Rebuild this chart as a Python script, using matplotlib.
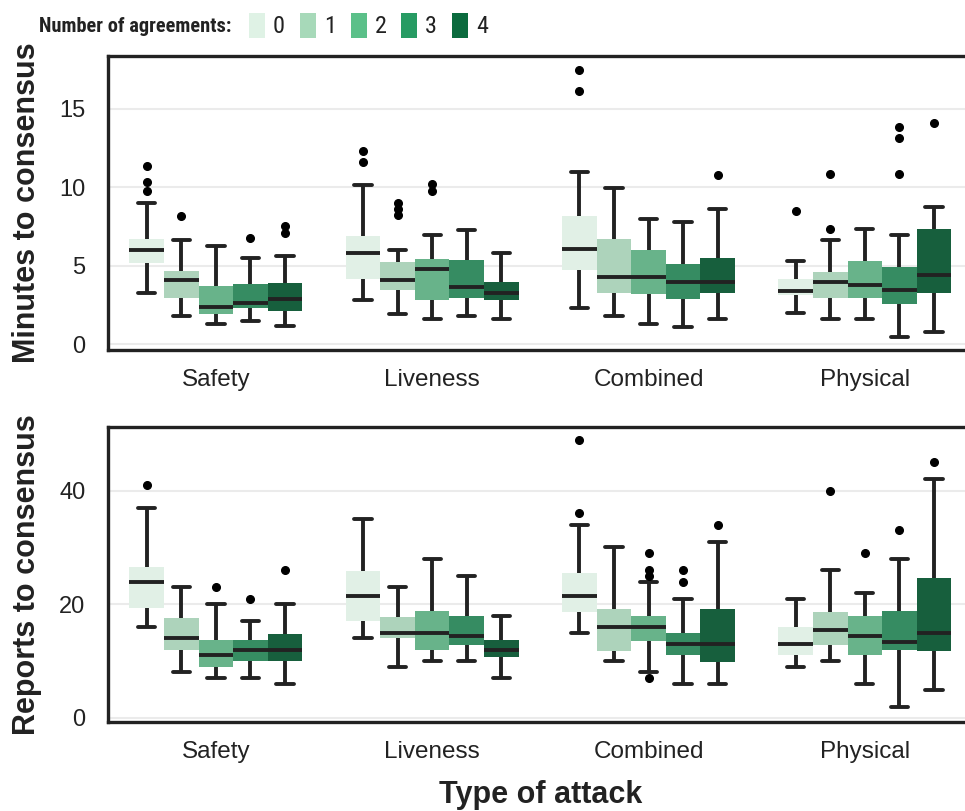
import colorsys

import matplotlib
matplotlib.use("Agg")
import matplotlib.pyplot as plt
from matplotlib import font_manager
from matplotlib.colors import to_rgb
from matplotlib.patches import Patch

# ---------------------------------------------------------------- data
attack_types = ["Safety", "Liveness", "Combined", "Physical"]
agreements = ["0", "1", "2", "3", "4"]

# Minutes to consensus: rows = attack type, columns = number of agreements
minutes_med = [[5.98, 4.07, 2.37, 2.61, 2.88],
               [5.80, 4.07, 4.79, 3.64, 3.29],
               [6.04, 4.28, 4.28, 3.96, 3.96],
               [3.37, 3.94, 3.80, 3.45, 4.39]]
minutes_q1 = [[5.17, 2.94, 1.93, 2.31, 2.12],
              [4.15, 3.45, 2.82, 2.94, 2.82],
              [4.72, 3.26, 3.20, 2.88, 3.26],
              [3.12, 2.94, 2.94, 2.56, 3.26]]
minutes_q3 = [[6.72, 4.64, 3.71, 3.81, 3.92],
              [6.91, 5.26, 5.40, 5.34, 3.99],
              [8.14, 6.68, 5.98, 5.09, 5.47],
              [4.13, 4.62, 5.28, 4.90, 7.37]]
minutes_lo = [[3.29, 1.80, 1.29, 1.46, 1.14],
              [2.80, 1.95, 1.63, 1.80, 1.63],
              [2.31, 1.80, 1.29, 1.13, 1.63],
              [1.97, 1.61, 1.61, 0.45, 0.81]]
minutes_hi = [[8.98, 6.61, 6.29, 5.47, 5.61],
              [10.13, 5.98, 6.95, 7.29, 5.79],
              [10.95, 9.96, 7.95, 7.80, 8.63],
              [5.28, 6.61, 7.31, 6.95, 8.77]]
minutes_fliers = [[[9.79, 10.32, 11.32], [8.14], [], [6.78], [7.10, 7.52]],
                  [[11.59, 12.29], [8.26, 8.63, 8.98], [9.75, 10.22], [], []],
                  [[16.10, 17.46], [], [], [], [10.79]],
                  [[8.46], [7.31, 10.81], [], [10.81, 13.12, 13.81], [14.11]]]

# Reports to consensus
reports_med = [[24, 14, 11, 12, 12],
               [21.5, 14.9, 14.9, 14.4, 12],
               [21.5, 16, 16, 13, 13],
               [13, 15.4, 14.4, 13.4, 15]]
reports_q1 = [[19.3, 11.9, 8.9, 10.1, 10],
              [17.1, 14, 12, 12.9, 10.8],
              [18.7, 11.8, 13.6, 11, 9.9],
              [11, 12.9, 11, 12, 11.8]]
reports_q3 = [[26.6, 17.6, 13.8, 13.8, 14.7],
              [25.8, 17.7, 18.9, 17.9, 13.8],
              [25.5, 19.2, 17.9, 14.9, 19.2],
              [16, 18.6, 17.9, 18.9, 24.6]]
reports_lo = [[16, 8, 7, 7, 6],
              [14, 9, 10, 10, 7],
              [15, 10, 8, 6, 6],
              [9, 10, 6, 2, 5]]
reports_hi = [[37, 23, 20, 17, 20],
              [35, 23, 28, 25, 18],
              [34, 30, 24, 21, 31],
              [21, 26, 22, 28, 42]]
reports_fliers = [[[41], [], [23], [21], [26]],
                  [[], [], [], [], []],
                  [[36, 49], [], [7, 25, 26, 29], [24, 26], [34]],
                  [[], [40], [29], [33], [45]]]

palette = ["#dff2e5", "#a7d9b9", "#5bc089", "#279b63", "#0b6b3e"]

# ---------------------------------------------------------------- style
W, H = 965, 811
INK = "#222222"
GRID = "#ebebeb"
plt.rcParams["font.family"] = ["Liberation Sans", "DejaVu Sans"]


def pick_family(candidates, default):
    names = {f.name for f in font_manager.fontManager.ttflist}
    for c in candidates:
        if c in names:
            return c
    return default


narrow_family = pick_family(["Liberation Sans Narrow", "Roboto Condensed",
                             "Open Sans Condensed", "Arial Narrow"],
                            "Liberation Sans")


def desaturate(color, prop):
    h, l, s = colorsys.rgb_to_hls(*to_rgb(color))
    return colorsys.hls_to_rgb(h, l, s * prop)


box_colors = [desaturate(c, 0.75) for c in palette]

fig = plt.figure(figsize=(W / 100, H / 100), dpi=100)


def px_rect(left, top, right, bottom):
    return [left / W, 1 - bottom / H, (right - left) / W, (bottom - top) / H]


ax_top = fig.add_axes(px_rect(107.7, 56, 973, 350))
ax_bot = fig.add_axes(px_rect(107.7, 426.5, 973, 722))

n_hue = len(agreements)
box_w = 0.8 / n_hue


def draw_boxes(ax, med, q1, q3, lo, hi, fliers):
    stats, positions, colors = [], [], []
    for g in range(len(attack_types)):
        for h in range(n_hue):
            stats.append(dict(med=med[g][h], q1=q1[g][h], q3=q3[g][h],
                              whislo=lo[g][h], whishi=hi[g][h],
                              fliers=fliers[g][h]))
            positions.append(g + (h - (n_hue - 1) / 2) * box_w)
            colors.append(box_colors[h])
    art = ax.bxp(stats, positions=positions, widths=box_w,
                 capwidths=box_w / 2, patch_artist=True, showfliers=True,
                 boxprops=dict(linewidth=0),
                 medianprops=dict(color=INK, linewidth=2.8,
                                  solid_capstyle="butt"),
                 whiskerprops=dict(color=INK, linewidth=2.8,
                                   solid_capstyle="butt"),
                 capprops=dict(color=INK, linewidth=2.8,
                               solid_capstyle="round"),
                 flierprops=dict(marker="o", markerfacecolor="black",
                                 markeredgecolor="black", markersize=5.5))
    for patch, c in zip(art["boxes"], colors):
        patch.set_facecolor(c)


def style_axes(ax, ylim, yticks, ylabel):
    ax.set_xlim(-0.5, len(attack_types) - 0.5)
    ax.set_ylim(*ylim)
    ax.set_xticks(range(len(attack_types)), attack_types)
    ax.set_yticks(yticks)
    ax.set_axisbelow(True)
    ax.yaxis.grid(True, color=GRID, linewidth=1.5)
    ax.xaxis.grid(False)
    ax.tick_params(axis="x", length=0, pad=13.5, labelsize=17.5, labelcolor=INK)
    ax.tick_params(axis="y", length=0, pad=16, labelsize=17, labelcolor=INK)
    for side in ("top", "bottom", "left"):
        ax.spines[side].set_color(INK)
        ax.spines[side].set_linewidth(2.4)
    ax.spines["right"].set_visible(False)
    ax.set_ylabel(ylabel, fontsize=22, fontweight="bold", color=INK,
                  va="center")
    ax.yaxis.set_label_coords((27 - 107.7) / 865.3, 0.5)


draw_boxes(ax_top, minutes_med, minutes_q1, minutes_q3, minutes_lo,
           minutes_hi, minutes_fliers)
style_axes(ax_top, (-0.36, 18.35), [0, 5, 10, 15], "Minutes to consensus")

draw_boxes(ax_bot, reports_med, reports_q1, reports_q3, reports_lo,
           reports_hi, reports_fliers)
style_axes(ax_bot, (-0.72, 51.3), [0, 20, 40], "Reports to consensus")

ax_bot.set_xlabel("Type of attack", fontsize=22, fontweight="bold",
                  color=INK, va="center")
ax_bot.xaxis.set_label_coords(0.5, (722 - 795) / 295.5)

# ---------------------------------------------------------------- legend
renderer = fig.canvas.get_renderer()

title = fig.text(231 / W, 1 - 26 / H, "Number of agreements:",
                 family=narrow_family, fontweight="bold", fontsize=16,
                 color=INK, ha="right", va="center")
tw = title.get_window_extent(renderer).width
title.set_fontsize(16 * 192 / tw)

leg_fs = 17.5
fs_px = leg_fs * 100 / 72
probe = fig.text(0, 0, "0", family=narrow_family, fontsize=leg_fs)
digit_w = probe.get_window_extent(renderer).width
probe.remove()

handles = [Patch(facecolor=c, edgecolor="none") for c in palette]
fig.legend(handles, agreements, loc="center left",
           bbox_to_anchor=(249 / W, 1 - 25.5 / H),
           ncol=n_hue, frameon=False, borderpad=0, borderaxespad=0,
           handlelength=16 / fs_px, handleheight=29 / fs_px,
           handletextpad=8 / fs_px,
           columnspacing=(50.75 - 16 - 8 - digit_w) / fs_px,
           prop=dict(family=narrow_family, size=leg_fs),
           labelcolor=INK)

fig.savefig("out.png", dpi=100)
